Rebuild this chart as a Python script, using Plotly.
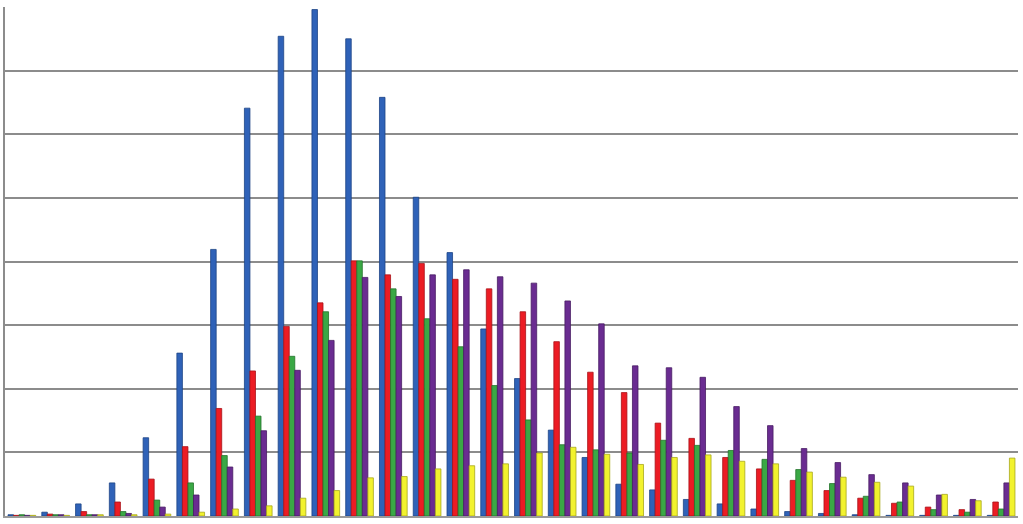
import plotly.graph_objects as go

categories = [str(i + 1) for i in range(30)]

blue = [0.02, 0.06, 0.19, 0.52, 1.23, 2.56, 4.19, 6.41, 7.54, 7.96,
        7.50, 6.58, 5.01, 4.14, 2.94, 2.16, 1.35, 0.92, 0.50, 0.41,
        0.26, 0.19, 0.11, 0.07, 0.04, 0.02, 0.01, 0.01, 0.01, 0.01]
red = [0.01, 0.03, 0.07, 0.22, 0.58, 1.09, 1.69, 2.28, 2.98, 3.35,
       4.01, 3.79, 3.97, 3.72, 3.57, 3.21, 2.74, 2.26, 1.94, 1.46,
       1.22, 0.92, 0.74, 0.56, 0.40, 0.28, 0.20, 0.14, 0.10, 0.22]
green = [0.02, 0.02, 0.02, 0.07, 0.25, 0.52, 0.95, 1.57, 2.51, 3.21,
         4.01, 3.57, 3.10, 2.66, 2.05, 1.51, 1.12, 1.04, 0.99, 1.19,
         1.11, 1.03, 0.89, 0.73, 0.51, 0.31, 0.22, 0.10, 0.06, 0.11]
purple = [0.01, 0.02, 0.02, 0.04, 0.14, 0.33, 0.77, 1.34, 2.29, 2.76,
          3.75, 3.45, 3.79, 3.87, 3.76, 3.66, 3.38, 3.02, 2.36, 2.33,
          2.18, 1.72, 1.42, 1.06, 0.84, 0.65, 0.52, 0.33, 0.26, 0.52]
yellow = [0.01, 0.01, 0.02, 0.02, 0.03, 0.06, 0.11, 0.16, 0.28, 0.40,
          0.60, 0.62, 0.74, 0.79, 0.82, 0.99, 1.08, 0.97, 0.81, 0.92,
          0.96, 0.86, 0.82, 0.69, 0.61, 0.53, 0.47, 0.34, 0.24, 0.91]

series = [
    ("Series 1", blue, "#2f62b8", "#1d4485"),
    ("Series 2", red, "#ec1c24", "#a81218"),
    ("Series 3", green, "#3aa845", "#24742c"),
    ("Series 4", purple, "#6a2c91", "#471c63"),
    ("Series 5", yellow, "#f2f22e", "#a8a81c"),
]

fig = go.Figure()
for name, vals, col, edge in series:
    fig.add_trace(go.Bar(
        x=categories, y=vals, name=name,
        marker=dict(color=col, line=dict(color=edge, width=0.8)),
    ))

fig.update_layout(
    width=1023, height=524,
    margin=dict(l=5, r=5, t=7, b=8),
    barmode="group", bargap=0.18, bargroupgap=0.0,
    plot_bgcolor="white", paper_bgcolor="white",
    showlegend=False,
    xaxis=dict(showticklabels=False, ticks="", showgrid=False,
               showline=True, linecolor="#9a9a9a", linewidth=2,
               zeroline=False),
    yaxis=dict(range=[0, 8], dtick=1, showticklabels=False, ticks="",
               showgrid=True, gridcolor="#8c8c8c", gridwidth=2,
               showline=True, linecolor="#8c8c8c", linewidth=2,
               zeroline=False),
)

fig.write_html(
    "out.html",
    config={"displayModeBar": False},
    post_script="document.body.style.margin='0';document.body.style.overflow='hidden';",
)
